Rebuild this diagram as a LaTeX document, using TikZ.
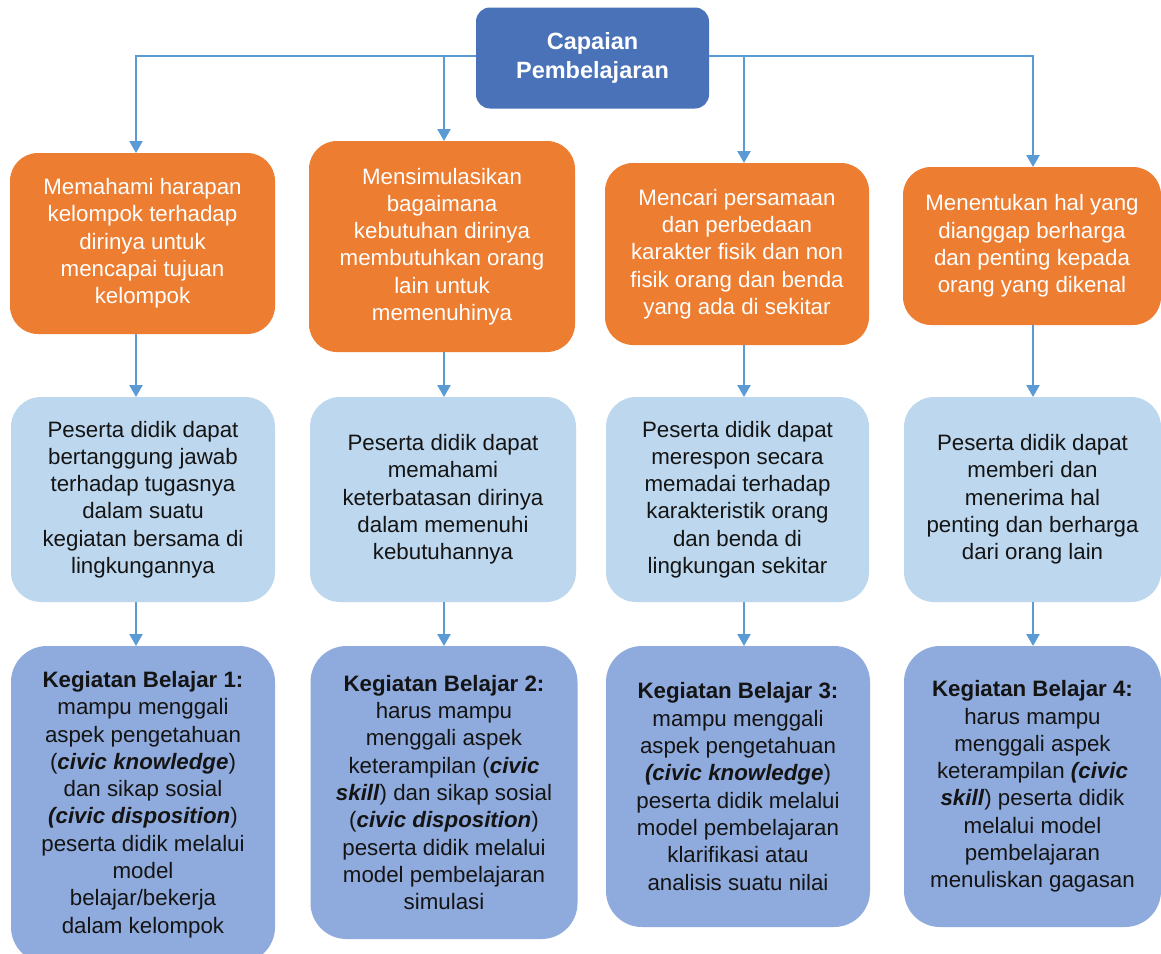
\documentclass[tikz,border=0pt]{standalone}
\usepackage{fontspec}
\setmainfont{Liberation Sans}
\usetikzlibrary{arrows.meta}
\definecolor{topblue}{HTML}{4A72B8}
\definecolor{orangebox}{HTML}{ED7D31}
\definecolor{lightbox}{HTML}{BDD7EE}
\definecolor{darkbox}{HTML}{8FAADC}
\definecolor{arrowblue}{HTML}{5B9BD5}
\definecolor{txt}{HTML}{141414}
\newcommand{\bi}[1]{\textbf{\textit{#1}}}
\begin{document}
\begin{tikzpicture}[x=1pt,y=-1pt,
  box/.style={inner sep=0pt,outer sep=0pt,align=center,font=\fontsize{22.3}{27.3}\selectfont},
  topbox/.style={box,fill=topblue,text=white,rounded corners=14pt,font=\fontsize{23.5}{29}\selectfont\bfseries},
  obox/.style={box,fill=orangebox,text=white,rounded corners=28pt},
  lbox/.style={box,fill=lightbox,text=txt,rounded corners=30pt},
  dbox/.style={box,fill=darkbox,text=txt,rounded corners=36pt},
  arr/.style={draw=arrowblue,line width=2.4pt,-{Triangle[width=13pt,length=12pt]}}
]
\useasboundingbox (0,0) rectangle (1161,953);
\fill[white] (0,0) rectangle (1161,953);

\coordinate (k1) at (136,0);
\coordinate (k2) at (444,0);
\coordinate (k3) at (744,0);
\coordinate (k4) at (1033,0);

\node[topbox,minimum width=233pt,minimum height=101pt] (top) at (592.5,58) {Capaian\\Pembelajaran};

\node[obox,minimum width=265pt,minimum height=181pt] (o1) at (142.5,243.5)
 {Memahami harapan\\kelompok terhadap\\dirinya untuk\\mencapai tujuan\\kelompok};
\node[obox,minimum width=266pt,minimum height=211pt] (o2) at (442,246.5)
 {Mensimulasikan\\bagaimana\\kebutuhan dirinya\\membutuhkan orang\\lain untuk\\memenuhinya};
\node[obox,minimum width=264pt,minimum height=182pt] (o3) at (737,254)
 {Mencari persamaan\\dan perbedaan\\karakter fisik dan non\\fisik orang dan benda\\yang ada di sekitar};
\node[obox,minimum width=258pt,minimum height=158pt] (o4) at (1032,246)
 {Menentukan hal yang\\dianggap berharga\\dan penting kepada\\orang yang dikenal};

\node[lbox,minimum width=264pt,minimum height=205pt] (l1) at (143,499.5)
 {Peserta didik dapat\\bertanggung jawab\\terhadap tugasnya\\dalam suatu\\kegiatan bersama di\\lingkungannya};
\node[lbox,minimum width=266pt,minimum height=205pt] (l2) at (443,499.5)
 {Peserta didik dapat\\memahami\\keterbatasan dirinya\\dalam memenuhi\\kebutuhannya};
\node[lbox,minimum width=263pt,minimum height=205pt] (l3) at (737.5,499.5)
 {Peserta didik dapat\\merespon secara\\memadai terhadap\\karakteristik orang\\dan benda di\\lingkungan sekitar};
\node[lbox,minimum width=257pt,minimum height=205pt] (l4) at (1032.5,499.5)
 {Peserta didik dapat\\memberi dan\\menerima hal\\penting dan berharga\\dari orang lain};

\node[dbox,minimum width=264pt,minimum height=317pt] (d1) at (143,804.5)
 {\textbf{Kegiatan Belajar 1:}\\mampu menggali\\aspek pengetahuan\\(\bi{civic knowledge})\\dan sikap sosial\\\bi{(civic disposition})\\peserta didik melalui\\model\\belajar/bekerja\\dalam kelompok};
\node[dbox,minimum width=267pt,minimum height=293pt] (d2) at (444,792.5)
 {\textbf{Kegiatan Belajar 2:}\\harus mampu\\menggali aspek\\keterampilan (\bi{civic}\\\bi{skill}) dan sikap sosial\\(\bi{civic disposition})\\peserta didik melalui\\model pembelajaran\\simulasi};
\node[dbox,minimum width=264pt,minimum height=281pt] (d3) at (738,786.5)
 {\textbf{Kegiatan Belajar 3:}\\mampu menggali\\aspek pengetahuan\\\bi{(civic knowledge})\\peserta didik melalui\\model pembelajaran\\klarifikasi atau\\analisis suatu nilai};
\node[dbox,minimum width=257pt,minimum height=281pt] (d4) at (1032.5,786.5)
 {\textbf{Kegiatan Belajar 4:}\\harus mampu\\menggali aspek\\keterampilan \bi{(civic}\\\bi{skill}) peserta didik\\melalui model\\pembelajaran\\menuliskan gagasan};

% top connectors
\draw[arr] (top.west |- 0,56) -| (k1 |- o1.north);
\draw[arr] (top.east |- 0,56) -| (k4 |- o4.north);
\draw[arr] (k2 |- 0,56) -- (k2 |- o2.north);
\draw[arr] (k3 |- 0,56) -- (k3 |- o3.north);

% row 1 -> row 2
\draw[arr] (k1 |- o1.south) -- (k1 |- l1.north);
\draw[arr] (k2 |- o2.south) -- (k2 |- l2.north);
\draw[arr] (k3 |- o3.south) -- (k3 |- l3.north);
\draw[arr] (k4 |- o4.south) -- (k4 |- l4.north);

% row 2 -> row 3
\draw[arr] (k1 |- l1.south) -- (k1 |- d1.north);
\draw[arr] (k2 |- l2.south) -- (k2 |- d2.north);
\draw[arr] (k3 |- l3.south) -- (k3 |- d3.north);
\draw[arr] (k4 |- l4.south) -- (k4 |- d4.north);
\end{tikzpicture}
\end{document}
